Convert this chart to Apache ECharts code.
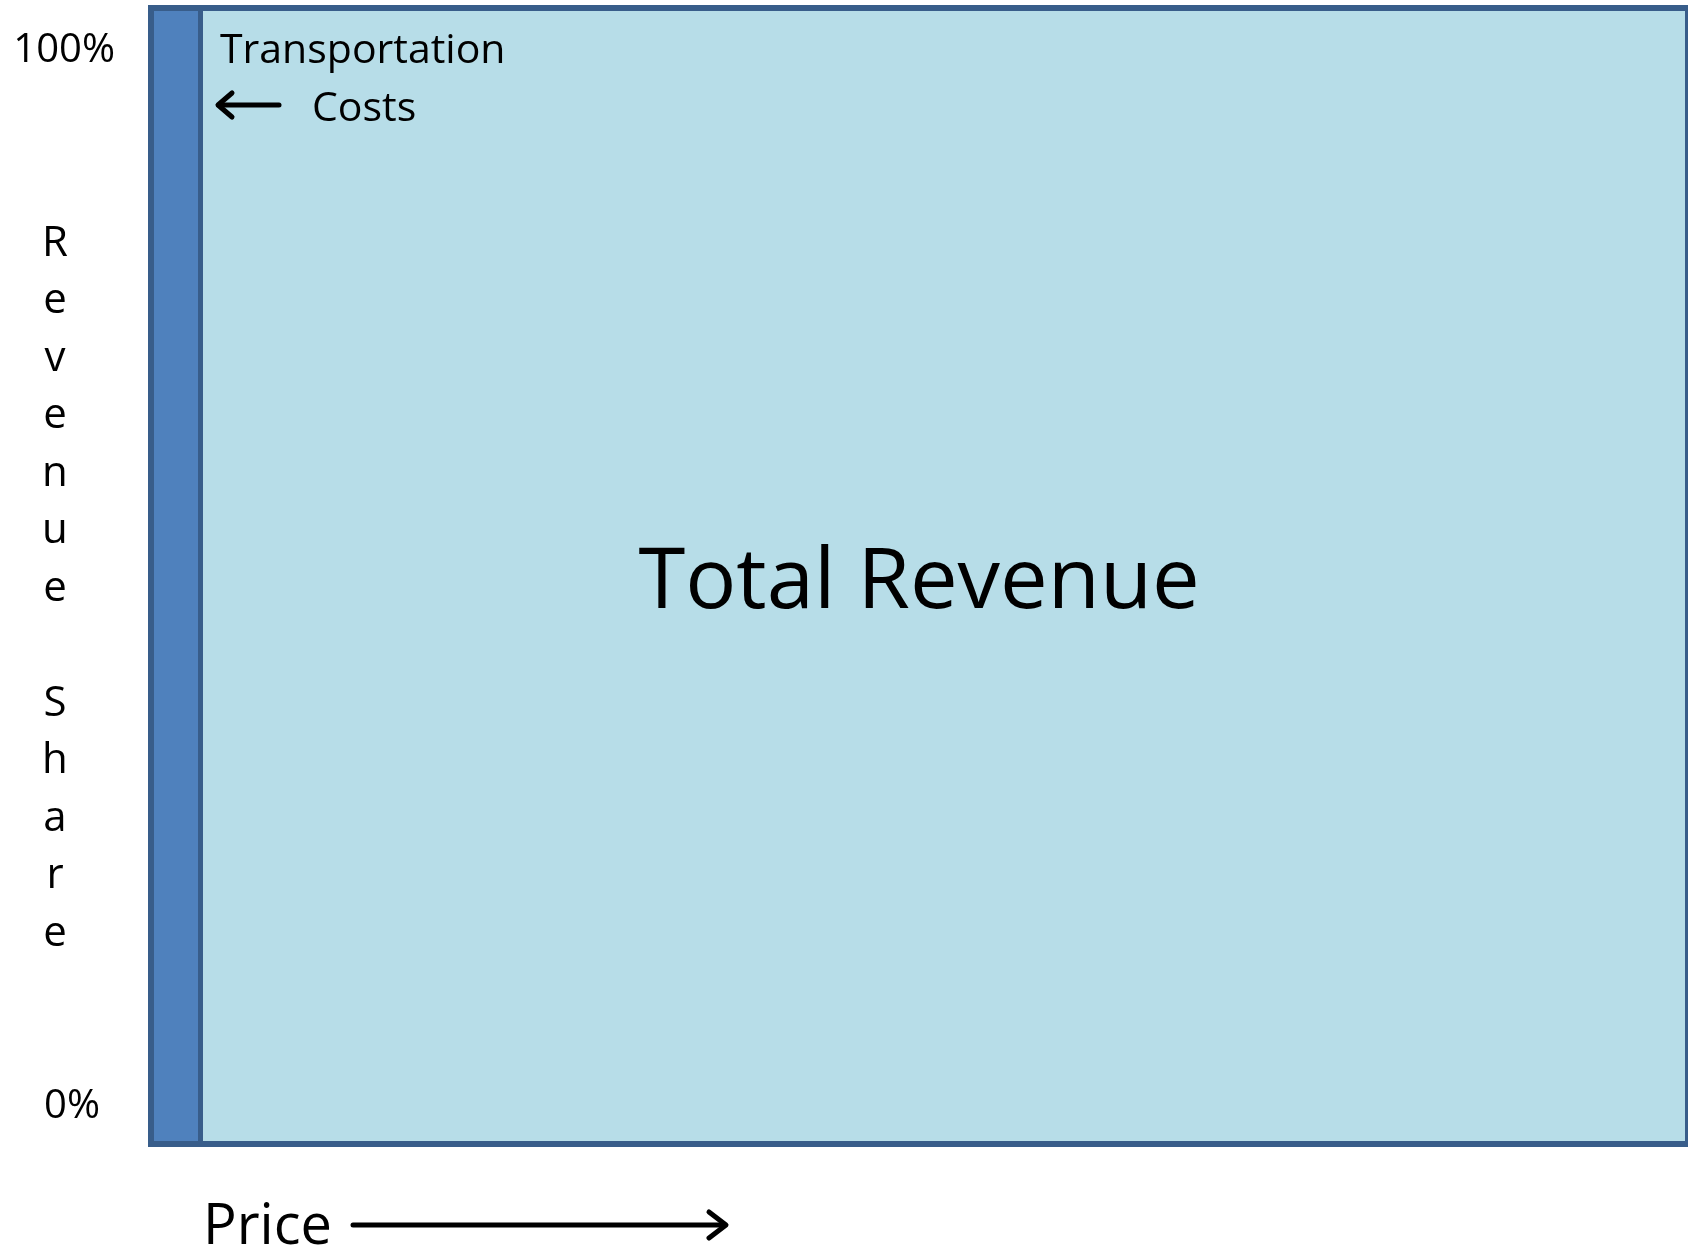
<!DOCTYPE html>
<html>
<head>
<meta charset="utf-8">
<script src="https://cdn.jsdelivr.net/npm/echarts@6/dist/echarts.min.js"></script>
<style>
html,body{margin:0;padding:0;background:#ffffff;}
#chart{width:1688px;height:1255px;}
</style>
</head>
<body>
<div id="chart"></div>
<script>
// ---- data ----
const categories = ['Price'];
const seriesNames = ['Transportation Costs', 'Total Revenue'];
const transportationCosts = [3.2];
const totalRevenue = [96.8];
const yTickValues = [0, 100];
const yTickLabels = ['0%', '100%'];
const yAxisTitle = 'Revenue Share';
const xAxisTitle = 'Price';
const costLabelLines = ['Transportation', 'Costs'];

const FONT = '"Open Sans", "Noto Sans", sans-serif';
const BORDER = '#385D8A';
const chart = echarts.init(document.getElementById('chart'), null, {renderer: 'canvas'});

// vertical stacked letters, with a small spacer line on top
const verticalTitle = '{s| }\n' + yAxisTitle.split('').map(c => '{l|' + c + '}').join('\n');

const option = {
  backgroundColor: '#ffffff',
  animation: false,
  grid: {
    left: 151, right: 0, top: 8, bottom: 111, outerBoundsMode: 'none', containLabel: false,
    show: true, backgroundColor: 'transparent', borderColor: BORDER, borderWidth: 6, z: 10
  },
  xAxis: {type: 'value', min: 0, max: 100, show: false},
  yAxis: [
    {type: 'category', data: categories, show: false},
    {
      type: 'value', min: -3.5, max: 104, position: 'left',
      axisLine: {show: false}, axisTick: {show: false}, splitLine: {show: false},
      name: verticalTitle,
      nameLocation: 'middle', nameRotate: 0, nameGap: 96, nameMoveOverlap: false,
      nameTextStyle: {
        fontFamily: FONT, fontSize: 42, color: '#000', align: 'center', verticalAlign: 'middle',
        rich: {
          s: {fontFamily: FONT, fontSize: 10, lineHeight: 26, color: '#000'},
          l: {fontFamily: FONT, fontSize: 42, lineHeight: 57.5, color: '#000', align: 'center'}
        }
      },
      axisLabel: {
        customValues: yTickValues,
        margin: 36, align: 'right',
        fontFamily: FONT, fontSize: 40, color: '#000',
        formatter: v => {
          const i = yTickValues.indexOf(v);
          return v === 100 ? '{h|' + yTickLabels[i] + '}' : '{z|' + yTickLabels[i] + '}';
        },
        rich: {
          h: {fontFamily: FONT, fontSize: 40, color: '#000'},
          z: {fontFamily: FONT, fontSize: 40, color: '#000', padding: [0, 15, 0, 0]}
        }
      }
    }
  ],
  series: [
    {
      name: seriesNames[0], type: 'bar', stack: 'share', yAxisIndex: 0,
      barWidth: '100%', data: transportationCosts,
      itemStyle: {color: '#4F81BD'},
      label: {
        show: true, position: [69, 15], align: 'left', verticalAlign: 'top',
        formatter: '{t|' + costLabelLines[0] + '}\n{c|' + costLabelLines[1] + '}',
        rich: {
          t: {fontFamily: FONT, fontSize: 41, color: '#000', lineHeight: 56},
          c: {fontFamily: FONT, fontSize: 41, color: '#000', lineHeight: 60, padding: [0, 0, 0, 92]}
        }
      },
      markLine: {
        silent: true, animation: false, symbol: ['none', 'none'],
        label: {show: false},
        lineStyle: {color: BORDER, width: 5, type: 'solid'},
        data: [{xAxis: transportationCosts[0]}]
      },
      z: 3
    },
    {
      name: seriesNames[1], type: 'bar', stack: 'share', yAxisIndex: 0,
      barWidth: '100%', data: totalRevenue,
      itemStyle: {color: '#B7DDE8'},
      label: {
        show: true, position: 'inside', offset: [-25, 8],
        formatter: '{a}', fontFamily: FONT, fontSize: 85, color: '#000'
      },
      z: 2
    }
  ],
  graphic: [
    {type: 'line', shape: {x1: 219, y1: 105, x2: 279, y2: 105}, style: {stroke: '#000', lineWidth: 5, lineCap: 'round'}, z: 10},
    {type: 'polyline', shape: {points: [[232, 93], [218, 105], [232, 117]]}, style: {stroke: '#000', fill: null, lineWidth: 5, lineCap: 'round', lineJoin: 'round'}, z: 10},
    {type: 'text', left: 203, top: 1200, style: {text: xAxisTitle, fontFamily: FONT, fontSize: 56, fill: '#000'}, z: 10},
    {type: 'line', shape: {x1: 353, y1: 1225, x2: 724, y2: 1225}, style: {stroke: '#000', lineWidth: 5, lineCap: 'round'}, z: 10},
    {type: 'polyline', shape: {points: [[709, 1212], [726, 1225], [709, 1238]]}, style: {stroke: '#000', fill: null, lineWidth: 5, lineCap: 'round', lineJoin: 'round'}, z: 10}
  ]
};
chart.setOption(option);
</script>
</body>
</html>
